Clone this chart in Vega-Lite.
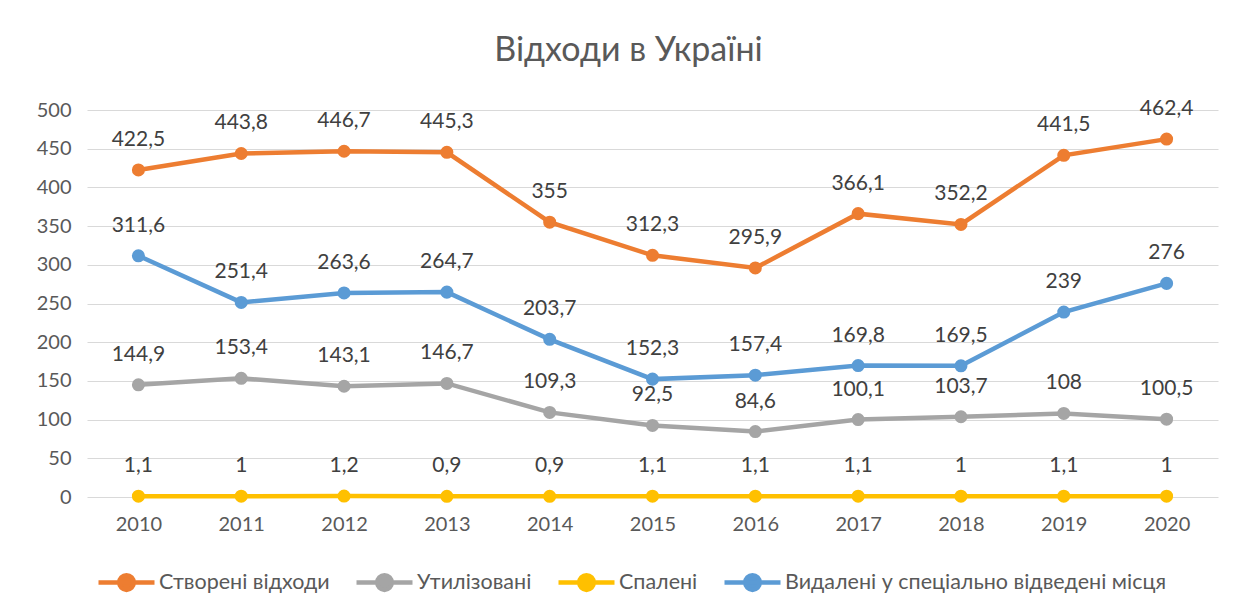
{
  "$schema": "https://vega.github.io/schema/vega-lite/v6.json",
  "width": 1131,
  "height": 387,
  "autosize": {"type": "none"},
  "padding": {"left": 87, "top": 110, "right": 17, "bottom": 114},
  "background": "white",
  "title": {
    "text": "Відходи в Україні",
    "font": "Lato",
    "fontSize": 34,
    "fontWeight": "normal",
    "color": "#595959",
    "anchor": "middle",
    "dx": -24,
    "offset": 30
  },
  "config": {
    "locale": {"number": {"decimal": ",", "thousands": "\u00a0", "grouping": [3], "currency": ["", ""]}},
    "view": {"stroke": null},
    "font": "Lato"
  },
  "data": {
    "values": [
      {"year": "2010", "series": "Створені відходи", "value": 422.5},
      {"year": "2011", "series": "Створені відходи", "value": 443.8},
      {"year": "2012", "series": "Створені відходи", "value": 446.7},
      {"year": "2013", "series": "Створені відходи", "value": 445.3},
      {"year": "2014", "series": "Створені відходи", "value": 355},
      {"year": "2015", "series": "Створені відходи", "value": 312.3},
      {"year": "2016", "series": "Створені відходи", "value": 295.9},
      {"year": "2017", "series": "Створені відходи", "value": 366.1},
      {"year": "2018", "series": "Створені відходи", "value": 352.2},
      {"year": "2019", "series": "Створені відходи", "value": 441.5},
      {"year": "2020", "series": "Створені відходи", "value": 462.4},
      {"year": "2010", "series": "Утилізовані", "value": 144.9},
      {"year": "2011", "series": "Утилізовані", "value": 153.4},
      {"year": "2012", "series": "Утилізовані", "value": 143.1},
      {"year": "2013", "series": "Утилізовані", "value": 146.7},
      {"year": "2014", "series": "Утилізовані", "value": 109.3},
      {"year": "2015", "series": "Утилізовані", "value": 92.5},
      {"year": "2016", "series": "Утилізовані", "value": 84.6},
      {"year": "2017", "series": "Утилізовані", "value": 100.1},
      {"year": "2018", "series": "Утилізовані", "value": 103.7},
      {"year": "2019", "series": "Утилізовані", "value": 108},
      {"year": "2020", "series": "Утилізовані", "value": 100.5},
      {"year": "2010", "series": "Спалені", "value": 1.1},
      {"year": "2011", "series": "Спалені", "value": 1},
      {"year": "2012", "series": "Спалені", "value": 1.2},
      {"year": "2013", "series": "Спалені", "value": 0.9},
      {"year": "2014", "series": "Спалені", "value": 0.9},
      {"year": "2015", "series": "Спалені", "value": 1.1},
      {"year": "2016", "series": "Спалені", "value": 1.1},
      {"year": "2017", "series": "Спалені", "value": 1.1},
      {"year": "2018", "series": "Спалені", "value": 1},
      {"year": "2019", "series": "Спалені", "value": 1.1},
      {"year": "2020", "series": "Спалені", "value": 1},
      {"year": "2010", "series": "Видалені у спеціально відведені місця", "value": 311.6},
      {"year": "2011", "series": "Видалені у спеціально відведені місця", "value": 251.4},
      {"year": "2012", "series": "Видалені у спеціально відведені місця", "value": 263.6},
      {"year": "2013", "series": "Видалені у спеціально відведені місця", "value": 264.7},
      {"year": "2014", "series": "Видалені у спеціально відведені місця", "value": 203.7},
      {"year": "2015", "series": "Видалені у спеціально відведені місця", "value": 152.3},
      {"year": "2016", "series": "Видалені у спеціально відведені місця", "value": 157.4},
      {"year": "2017", "series": "Видалені у спеціально відведені місця", "value": 169.8},
      {"year": "2018", "series": "Видалені у спеціально відведені місця", "value": 169.5},
      {"year": "2019", "series": "Видалені у спеціально відведені місця", "value": 239},
      {"year": "2020", "series": "Видалені у спеціально відведені місця", "value": 276}
    ]
  },
  "encoding": {
    "x": {
      "field": "year",
      "type": "ordinal",
      "scale": {"type": "point", "padding": 0.5},
      "axis": {
        "title": null,
        "labelAngle": 0,
        "labelFontSize": 20,
        "labelColor": "#595959",
        "labelPadding": 17,
        "domain": false,
        "ticks": false,
        "grid": false
      }
    },
    "y": {
      "field": "value",
      "type": "quantitative",
      "scale": {"domain": [0, 500]},
      "axis": {
        "title": null,
        "values": [0, 50, 100, 150, 200, 250, 300, 350, 400, 450, 500],
        "labelFontSize": 20,
        "labelColor": "#595959",
        "labelPadding": 16,
        "domain": false,
        "ticks": false,
        "gridColor": "#D9D9D9",
        "gridWidth": 1.2
      }
    },
    "color": {
      "field": "series",
      "type": "nominal",
      "sort": ["Створені відходи", "Утилізовані", "Спалені", "Видалені у спеціально відведені місця"],
      "scale": {
        "domain": ["Створені відходи", "Утилізовані", "Спалені", "Видалені у спеціально відведені місця"],
        "range": ["#ED7D31", "#A5A5A5", "#FFC000", "#5B9BD5"]
      },
      "legend": {
        "title": null,
        "orient": "none",
        "direction": "horizontal",
        "legendX": 9,
        "legendY": 442,
        "labelFontSize": 21.5,
        "labelColor": "#595959",
        "labelLimit": 0,
        "labelOffset": 2,
        "columnPadding": 17,
        "symbolType": "M-1,0L1,0M-0.26,0A0.26,0.26 0 1,0 0.26,0A0.26,0.26 0 1,0 -0.26,0Z",
        "symbolSize": 3136,
        "symbolStrokeWidth": 4.5,
        "encode": {
          "symbols": {
            "update": {
              "fill": {"scale": "color", "field": "value"},
              "stroke": {"scale": "color", "field": "value"},
              "fillOpacity": {"value": 1}
            }
          }
        }
      }
    }
  },
  "layer": [
    {
      "mark": {"type": "line", "strokeWidth": 4.5, "strokeCap": "round"}
    },
    {
      "mark": {"type": "point", "filled": true, "size": 170, "opacity": 1}
    },
    {
      "mark": {"type": "text", "dy": -30, "fontSize": 21, "color": "#404040", "baseline": "middle"},
      "encoding": {
        "text": {"field": "value", "type": "quantitative", "format": ".4~r"},
        "color": {"value": "#404040"}
      }
    }
  ]
}
